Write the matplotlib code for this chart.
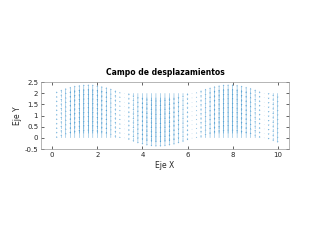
import numpy as np
import matplotlib
matplotlib.use("Agg")
import matplotlib.pyplot as plt

# node grid (columns in x, rows in y)
x_nodes = [0.2, 0.4, 0.6, 0.8, 1.0, 1.2, 1.4, 1.6, 1.8, 2.0,
           2.2, 2.4, 2.6, 2.8, 3.0, 3.2, 3.4, 3.6, 3.8, 4.0,
           4.2, 4.4, 4.6, 4.8, 5.0, 5.2, 5.4, 5.6, 5.8, 6.0,
           6.2, 6.4, 6.6, 6.8, 7.0, 7.2, 7.4, 7.6, 7.8, 8.0,
           8.2, 8.4, 8.6, 8.8, 9.0, 9.2, 9.4, 9.6, 9.8, 10.0]
y_nodes = [0.0, 0.2, 0.4, 0.6, 0.8, 1.0, 1.2, 1.4, 1.6, 1.8, 2.0]

# vertical displacement of each column
v_col = [0.08, 0.16, 0.23, 0.29, 0.34, 0.37, 0.39, 0.40, 0.39, 0.36,
         0.32, 0.27, 0.21, 0.13, 0.06, -0.02, -0.10, -0.18, -0.25, -0.30,
         -0.35, -0.38, -0.40, -0.40, -0.38, -0.35, -0.31, -0.25, -0.19, -0.11,
         -0.03, 0.05, 0.13, 0.20, 0.26, 0.32, 0.36, 0.39, 0.40, 0.40,
         0.38, 0.34, 0.29, 0.24, 0.17, 0.09, 0.01, -0.07, -0.15, -0.22]

X, Y = np.meshgrid(x_nodes, y_nodes)
V = np.tile(v_col, (len(y_nodes), 1))
U = np.zeros_like(V)

plt.rcParams['font.family'] = ['DejaVu Sans']
fig = plt.figure(figsize=(3.2, 2.4), dpi=100)
ax = fig.add_axes([0.128, 0.379, 0.775, 0.279])

ax.quiver(X, Y, U, V, angles='xy', scale_units='xy', scale=1,
          color='#0072BD', width=0.002, headwidth=3.5, headlength=3,
          headaxislength=2.7, alpha=0.6)

ax.set_xlim(-0.5, 10.5)
ax.set_ylim(-0.5, 2.5)
ax.set_xticks([0, 2, 4, 6, 8, 10])
ax.set_yticks([-0.5, 0, 0.5, 1, 1.5, 2, 2.5])
ax.set_yticklabels(['-0.5', '0', '0.5', '1', '1.5', '2', '2.5'])
ax.tick_params(direction='in', length=2, width=0.5, labelsize=5,
               colors='#262626', top=True, right=True, pad=2)
for s in ax.spines.values():
    s.set_linewidth(0.5)
    s.set_color('#999999')

ax.set_title('Campo de desplazamientos', fontsize=5.5, fontweight='bold', pad=5)
ax.set_xlabel('Eje X', fontsize=5.5, color='#262626', labelpad=2)
ax.set_ylabel('Eje Y', fontsize=5.5, color='#262626', labelpad=2)

fig.savefig('out.png', dpi=100)
